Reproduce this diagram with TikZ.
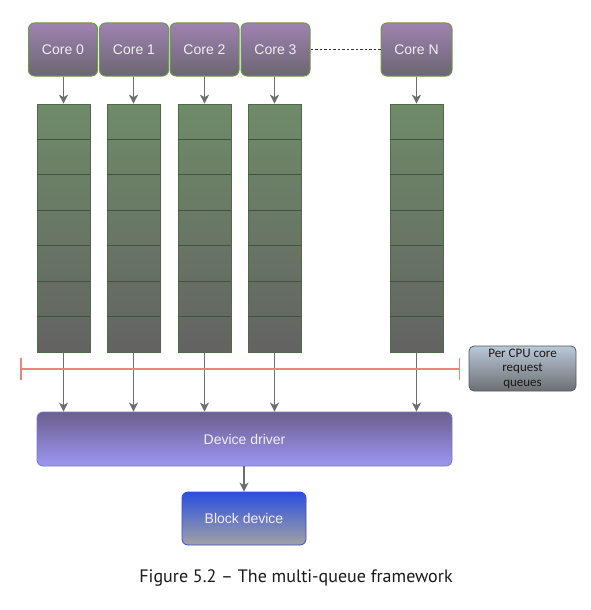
\documentclass[tikz,border=0pt]{standalone}
\usepackage{fontspec}
\setmainfont{Liberation Sans}
\newfontfamily\capfont{PT Sans}
\newfontfamily\notefont{Carlito}
\usetikzlibrary{arrows.meta,calc}
\definecolor{coretop}{HTML}{9F82B1}
\definecolor{corebot}{HTML}{6B6670}
\definecolor{coreedge}{HTML}{6A9A4A}
\definecolor{qtop}{HTML}{6F8B69}
\definecolor{qbot}{HTML}{636362}
\definecolor{qedge}{HTML}{4E6A48}
\definecolor{drvtop}{HTML}{6C5F8F}
\definecolor{drvbot}{HTML}{9C96F2}
\definecolor{drvedge}{HTML}{7C78D0}
\definecolor{blktop}{HTML}{2A4FE0}
\definecolor{blkbot}{HTML}{A2A2A4}
\definecolor{blkedge}{HTML}{3A4AD0}
\definecolor{notetop}{HTML}{BAC8D8}
\definecolor{notebot}{HTML}{6C6F73}
\definecolor{arrgrey}{HTML}{6D6D6D}
\definecolor{redline}{HTML}{F2807E}
\definecolor{txtlight}{HTML}{F0EEF4}
\tikzset{
  corebox/.style={draw=coreedge, line width=1pt, rounded corners=6pt,
    top color=coretop, bottom color=corebot, minimum width=69pt, minimum height=53pt,
    text=txtlight, font=\fontsize{14}{16}\selectfont, inner sep=0pt},
  qbox/.style={draw=qedge, line width=0.6pt, top color=qtop, bottom color=qbot,
    minimum width=53pt, minimum height=248pt, inner sep=0pt},
  qline/.style={draw=qedge!80!black, line width=0.8pt},
  arr/.style={draw=arrgrey, line width=1.4pt, -{Stealth[length=9pt,width=9pt,inset=2.5pt]}},
  drvbox/.style={draw=drvedge, line width=0.8pt, rounded corners=6pt,
    top color=drvtop, bottom color=drvbot, minimum width=415pt, minimum height=54pt,
    text=txtlight, font=\fontsize{14}{16}\selectfont, inner sep=0pt},
  blkbox/.style={draw=blkedge, line width=0.8pt, rounded corners=6pt,
    top color=blktop, bottom color=blkbot, minimum width=124pt, minimum height=53pt,
    text=txtlight, font=\fontsize{14}{16}\selectfont, inner sep=0pt},
  notebox/.style={draw=notebot!80!black, line width=0.8pt, rounded corners=5pt,
    top color=notetop, bottom color=notebot, minimum width=107pt, minimum height=45pt,
    text=black!90, font=\notefont\fontsize{13}{14.5}\selectfont, align=center, inner sep=0pt},
  redbar/.style={draw=redline, line width=1.5pt, {Bar[width=22pt]}-{Bar[width=22pt]}},
  dotline/.style={draw=black!80, line width=0.7pt, dash pattern=on 2.5pt off 2pt},
}
\begin{document}
\begin{tikzpicture}[x=1pt,y=-1pt]
\useasboundingbox (0,0) rectangle (590,610);
% cores
\node[corebox] (c0) at (63,49.5) {Core 0};
\node[corebox] (c1) at (134,49.5) {Core 1};
\node[corebox] (c2) at (204.5,49.5) {Core 2};
\node[corebox] (c3) at (275.5,49.5) {Core 3};
\node[corebox, minimum width=71pt] (cN) at (416.5,49.5) {Core N};
\draw[dotline] (c3.east) -- (cN.west);
% queues
\foreach \n/\x in {q0/63.5, q1/133.5, q2/204.5, q3/274.5, qN/416.5}{
  \node[qbox] (\n) at (\x,228) {};
  \foreach \k in {1,...,6}{
    \draw[qline] ($(\n.north west)!\k/7!(\n.south west)$) -- ($(\n.north east)!\k/7!(\n.south east)$);
  }
}
\foreach \c/\q in {c0/q0, c1/q1, c2/q2, c3/q3, cN/qN}{
  \draw[arr] (\c.south -| \q.north) -- (\q.north);
}
% driver
\node[drvbox] (drv) at (244.5,439) {Device driver};
\foreach \q in {q0,q1,q2,q3,qN}{
  \draw[arr] (\q.south) -- (\q.south |- drv.north);
}
% red line
\coordinate (rl) at (20,369);
\coordinate (rr) at (460,369);
\draw[redbar] (rl) -- (rr);
% note
\node[notebox] (note) at (522.5,368.5) {Per CPU core\\request\\queues};
% block device
\node[blkbox] (blk) at (244,518.5) {Block device};
\draw[arr] (drv.south -| blk.north) -- (blk.north);
% caption
\node[font=\capfont\fontsize{18}{21}\selectfont, text=black!90] (cap) at (296,578) {Figure 5.2 – The multi-queue framework};
\end{tikzpicture}
\end{document}
